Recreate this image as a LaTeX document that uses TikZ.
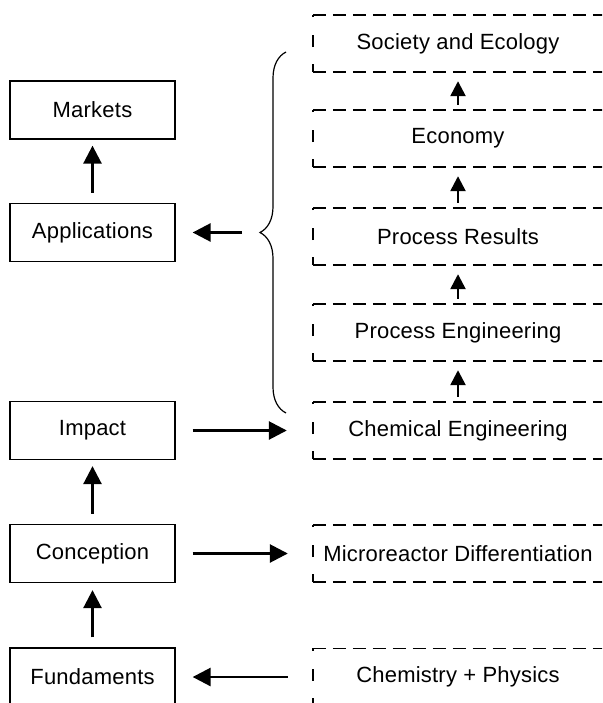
\documentclass[tikz,border=0pt]{standalone}
\usepackage{fontspec}
\setmainfont{Liberation Sans}[LetterSpace=1]
\usetikzlibrary{arrows.meta,decorations.pathreplacing}

\tikzset{
  solidbox/.style={draw, line width=1.3pt, minimum width=165pt, minimum height=58pt,
    inner sep=0pt, font=\fontsize{22pt}{24pt}\selectfont},
  dashbox/.style={minimum width=290pt, minimum height=57pt, inner sep=0pt,
    font=\fontsize{22pt}{24pt}\selectfont},
  dashedge/.style={line width=1.6pt, dash pattern=on 13pt off 7pt},
  leftedge/.style={line width=1.6pt, dash pattern=on 8pt off 17pt on 12pt off 18pt on 4pt},
  bigarrow/.style={line width=2.7pt, -{Triangle[length=18pt,width=18pt]}},
  smallarrow/.style={line width=2.5pt, -{Triangle[length=15pt,width=15pt]}},
}

% outline of an open-ended dashed box: top, bottom and left edges
\newcommand{\dashframe}[1]{%
  \draw[dashedge] (#1.north west) -- (#1.north east);
  \draw[dashedge] (#1.south west) -- (#1.south east);
  \draw[leftedge] (#1.south west) -- (#1.north west);
}

\begin{document}
\begin{tikzpicture}[x=1pt,y=-1pt]
\useasboundingbox (0,0) rectangle (602,703);
\clip (0,0) rectangle (602,703);

% left column
\node[solidbox] (mk)  at (92.5,110)   {Markets};
\node[solidbox] (app) at (92.5,232.5) {Applications};
\node[solidbox] (imp) at (92.5,430.5) {Impact};
\node[solidbox] (con) at (92.5,553.5) {Conception};
\node[solidbox] (fun) at (92.5,677)   {Fundaments};

% right column
\node[dashbox] (soc) at (458,43.5)  {Society and Ecology};
\node[dashbox] (eco) at (458,138.5) {Economy};
\node[dashbox] (res) at (458,236.5) {Process Results};
\node[dashbox] (pen) at (458,332.5) {Process Engineering};
\node[dashbox] (che) at (458,430.5) {Chemical Engineering};
\node[dashbox] (mic) at (458,553.5) {Microreactor Differentiation};
\node[dashbox] (phy) at (458,677)   {Chemistry + Physics};
\foreach \n in {soc,eco,res,pen,che,mic,phy} {\dashframe{\n}}

% brace grouping the upper part of the right column
\coordinate (bb) at (286,413);
\coordinate (bt) at (286,52);
\draw[line width=1.2pt, decorate, decoration={brace, amplitude=26pt}] (bb) -- (bt);
\coordinate (tip) at (260,232.5);

% vertical arrows, left column
\draw[bigarrow, shorten <=10pt, shorten >=6pt] (app) -- (mk);
\draw[bigarrow, shorten <=10pt, shorten >=6pt] (con) -- (imp);
\draw[bigarrow, shorten <=10pt, shorten >=7pt] (fun) -- (con);

% vertical arrows, right column
\draw[smallarrow, shorten <=5pt, shorten >=9pt] (eco) -- (soc);
\draw[smallarrow, shorten <=5pt, shorten >=9pt] (res) -- (eco);
\draw[smallarrow, shorten <=5pt, shorten >=9pt] (pen) -- (res);
\draw[smallarrow, shorten <=5pt, shorten >=9pt] (che) -- (pen);

% horizontal arrows
\draw[bigarrow, shorten <=18pt, shorten >=17pt] (tip) -- (app);
\draw[bigarrow, shorten <=17pt, shorten >=26pt] (imp) -- (che);
\draw[bigarrow, shorten <=17pt, shorten >=25pt] (con) -- (mic);
\draw[bigarrow, shorten <=25pt, shorten >=17pt] (phy) -- (fun);
\end{tikzpicture}
\end{document}
